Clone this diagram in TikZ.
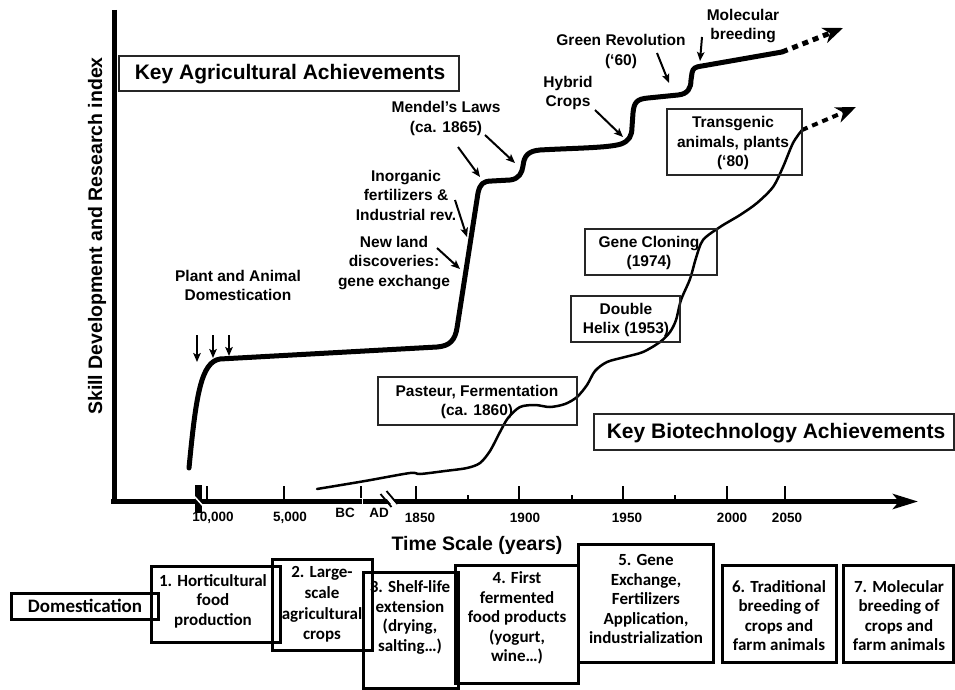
\documentclass[tikz,border=0pt]{standalone}
\usepackage{fontspec}
\setmainfont{Liberation Sans}
\newfontfamily\carl{Carlito}
\usetikzlibrary{arrows.meta}
\newcommand{\myfs}[2]{\fontsize{#1}{#2}\selectfont}
\tikzset{
  lab/.style={align=center, inner sep=0pt, font=\bfseries\myfs{15.5}{19.5}},
  tbox/.style={draw=black!85, line width=1.3pt, inner sep=0pt},
  bbox/.style={draw=black, line width=3pt, inner sep=0pt},
  btxt/.style={align=center, inner sep=0pt, font=\carl\bfseries\myfs{17}{19.5}},
  ptr/.style={line width=2pt, -{Stealth[length=9pt,width=7.5pt,inset=2pt]}},
  axtick/.style={line width=2.5pt},
  ticklab/.style={inner sep=0pt, font=\bfseries\myfs{13.5}{16}},
  agri/.style={line width=5pt, line cap=round, line join=round},
  biot/.style={line width=2.5pt, line cap=round, line join=round},
  dotarrow/.style={dash pattern=on 6pt off 5pt, -{Stealth[length=20pt,width=16pt,inset=6pt]}},
}
\begin{document}
\begin{tikzpicture}[x=1pt,y=-1pt]
\useasboundingbox (0,0) rectangle (955,690);
\fill[white] (0,0) rectangle (955,690);

% ---------- axes ----------
\coordinate (yt) at (114,10);
\coordinate (yb) at (114,504);
\draw[line width=5pt] (yt) -- (yb);
\coordinate (xl) at (111,501.5);
\coordinate (xr) at (918,501.5);
\draw[line width=5pt, -{Stealth[length=25pt,width=15pt,inset=6pt]}] (xl) -- (xr);

\foreach \x in {207,284,416,519,623,727,785} \draw[axtick] (\x,486) -- (\x,501);
\foreach \x in {468,572,675} \draw[axtick] (\x,495) -- (\x,501);
\draw[axtick] (361,486) -- (361,498);
\draw[white, line width=1.6pt] (362.5,498) -- (362.5,506);

% tick labels
\node[ticklab] (t10000) at (213,518) {10,000};
\node[ticklab] (t5000) at (290,518) {5,000};
\node[ticklab] (tbc) at (345,513) {BC};
\node[ticklab] (tad) at (379,513) {AD};
\node[ticklab] (t1850) at (420,518) {1850};
\node[ticklab] (t1900) at (525,518) {1900};
\node[ticklab] (t1950) at (627,518) {1950};
\node[ticklab] (t2000) at (732,518) {2000};
\node[ticklab] (t2050) at (787,518) {2050};

% axis breaks
\fill[black] (195,485) rectangle (202,513);
\draw[white, line width=1.5pt] (194,496) -- (204,507);
\draw[white, line width=4pt] (383.5,492) -- (395.5,506);
\draw[line width=1.8pt] (380.5,494) -- (391.5,507);
\draw[line width=1.8pt] (386.5,491) -- (397.5,504);

% axis titles
\node[inner sep=0pt, font=\bfseries\myfs{19.5}{23}] (xtitle) at (477,545) {Time Scale (years)};
\node[inner sep=0pt, rotate=90, font=\bfseries\myfs{19.5}{23}] (ytitle) at (97,236) {Skill Development and Research index};

% ---------- title boxes ----------
\node[tbox, minimum width=340pt, minimum height=35pt] (kab) at (289,73.5) {};
\node[inner sep=0pt, font=\bfseries\myfs{21}{25}] (kat) at (290,74) {Key Agricultural Achievements};
\node[tbox, minimum width=360pt, minimum height=36pt] (kbb) at (774,432) {};
\node[inner sep=0pt, font=\bfseries\myfs{21}{25}] (kbt) at (776,433) {Key Biotechnology Achievements};

% ---------- agricultural curve ----------
\draw[agri] (189,468) .. controls (196,395) and (201,362) .. (220,359)
  -- (437,347) .. controls (450,346) and (455,340) .. (457,328)
  -- (478,193) .. controls (480,184) and (483,181) .. (492,181)
  -- (510,180) .. controls (519,179) and (522,173) .. (523,166)
  .. controls (524,156) and (528,151) .. (540,150)
  .. controls (575,148) and (608,148) .. (621,144)
  .. controls (629,141) and (632,136) .. (632,127)
  -- (633,113) .. controls (634,102) and (637,99) .. (648,98)
  -- (678,95) .. controls (688,94) and (691,88) .. (691,80)
  -- (692,73) .. controls (693,68) and (695,67) .. (702,66)
  -- (782,52);
\coordinate (agend) at (782,52);
\coordinate (agtip) at (843,28);
\draw[line width=5pt, dotarrow] (agend) -- (agtip);

% ---------- biotech curve ----------
\draw[biot] plot[smooth, tension=0.5] coordinates {(317,489) (365,481) (410,473) (420,474) (445,471) (467,468) (480,463) (490,451) (500,432) (508,418) (520,407) (535,405) (550,407) (565,404) (577,397) (587,385) (595,371) (607,362) (625,357) (643,352) (660,342) (670,332) (676,320) (681,300) (690,279) (696,258) (703,240) (720,227) (740,215) (757,203) (773,187) (783,167) (793,143) (802,130)};
\coordinate (bend) at (802,130);
\coordinate (btip) at (856,107);
\draw[line width=4pt, dotarrow] (bend) -- (btip);

% ---------- biotech boxes ----------
\node[tbox, minimum width=199pt, minimum height=48pt] (pasb) at (477.5,401) {};
\node[lab] (past) at (477,402) {Pasteur, Fermentation\\(ca. 1860)};
\node[tbox, minimum width=109pt, minimum height=46pt] (dhb) at (625.5,319) {};
\node[lab] (dht) at (626,320) {Double\\Helix (1953)};
\node[tbox, minimum width=132pt, minimum height=46pt] (gcb) at (651,252) {};
\node[lab] (gct) at (649,253) {Gene Cloning\\(1974)};
\node[tbox, minimum width=135pt, minimum height=66pt] (trb) at (734.5,142) {};
\node[lab] (trt) at (733,143) {Transgenic\\animals, plants\\(‘80)};

% ---------- agricultural labels ----------
\node[lab] (pad) at (238,285.5) {Plant and Animal\\Domestication};
\node[lab] (mend) at (446,118.5) {Mendel’s Laws\\(ca. 1865)};
\node[lab] (inorg) at (406,195) {Inorganic\\fertilizers \&\\Industrial rev.};
\node[lab] (newl) at (394,263) {New land\\discoveries:\\gene exchange};
\node[lab] (hyb) at (568,93) {Hybrid\\Crops};
\node[lab] (green) at (621,51.5) {Green Revolution\\(‘60)};
\node[lab] (molb) at (743,26) {Molecular\\breeding};

% pointer arrows
\coordinate (a1s) at (197,335); \coordinate (a1e) at (197,362);
\coordinate (a2s) at (213,335); \coordinate (a2e) at (213,358);
\coordinate (a3s) at (229,335); \coordinate (a3e) at (229,356);
\draw[ptr] (a1s) -- (a1e);
\draw[ptr] (a2s) -- (a2e);
\draw[ptr] (a3s) -- (a3e);
\coordinate (m1s) at (458,147); \coordinate (m1e) at (480,177);
\coordinate (m2s) at (485,135); \coordinate (m2e) at (515,163);
\draw[ptr] (m1s) -- (m1e);
\draw[ptr] (m2s) -- (m2e);
\coordinate (ins) at (455,200); \coordinate (ine) at (467,237);
\draw[ptr] (ins) -- (ine);
\coordinate (nls) at (437,248); \coordinate (nle) at (460,269);
\draw[ptr] (nls) -- (nle);
\coordinate (hys) at (595,110); \coordinate (hye) at (623,137);
\draw[ptr] (hys) -- (hye);
\coordinate (grs) at (657,53); \coordinate (gre) at (669,83);
\draw[ptr] (grs) -- (gre);
\coordinate (mos) at (702,37); \coordinate (moe) at (700,61);
\draw[ptr] (mos) -- (moe);

% ---------- bottom boxes ----------
\node[bbox, minimum width=147pt, minimum height=26pt] (domb) at (84.5,606) {};
\node[inner sep=0pt, font=\carl\bfseries\myfs{19}{22}] (domt) at (85,606) {Domestication};
\node[bbox, minimum width=129pt, minimum height=76pt] (b1) at (215.5,604) {};
\node[btxt] (b1t) at (213,601) {1. Horticultural\\food\\production};
\node[bbox, minimum width=100pt, minimum height=91pt] (b2) at (322,604.5) {};
\node[btxt, font=\carl\bfseries\myfs{17}{20.8}] (b2t) at (322,604.5) {2. Large-\\scale\\agricultural\\crops};
\node[bbox, minimum width=95pt, minimum height=116pt] (b3) at (410.5,630) {};
\node[btxt] (b3t) at (410,617.5) {3. Shelf-life\\extension\\(drying,\\salting…)};
\node[bbox, minimum width=123pt, minimum height=118pt] (b4) at (516.5,624) {};
\node[btxt] (b4t) at (517,618) {4. First\\fermented\\food products\\(yogurt,\\wine…)};
\node[bbox, minimum width=135pt, minimum height=118pt] (b5) at (645.5,603) {};
\node[btxt] (b5t) at (646,599) {5. Gene\\Exchange,\\Fertilizers\\Application,\\industrialization};
\node[bbox, minimum width=114pt, minimum height=97pt] (b6) at (779,613.5) {};
\node[btxt] (b6t) at (779,615.5) {6. Traditional\\breeding of\\crops and\\farm animals};
\node[bbox, minimum width=110pt, minimum height=97pt] (b7) at (898.5,613.5) {};
\node[btxt] (b7t) at (899,615.5) {7. Molecular\\breeding of\\crops and\\farm animals};
\end{tikzpicture}
\end{document}
